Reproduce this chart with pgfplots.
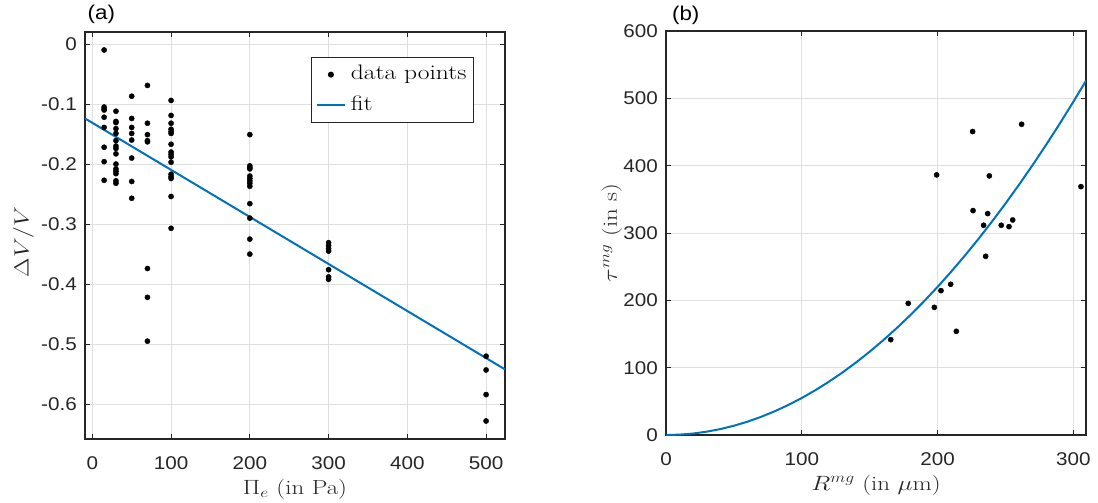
\documentclass[border=0pt]{standalone}
\usepackage{pgfplots}
\pgfplotsset{compat=1.18}
\usepackage{graphicx}
\usepackage{fontspec}
\newfontfamily\arial{Liberation Sans}[FakeStretch=1.12]
\definecolor{mblue}{rgb}{0,0.447,0.741}
\definecolor{axgray}{HTML}{262626}
\definecolor{gridgray}{HTML}{DFDFDF}
\newcommand\lab[1]{\scalebox{1.22}[1]{#1}}
\newcommand\leg[1]{\scalebox{1.22}[1]{#1}}
\pgfplotsset{
  myaxis/.style={
    scale only axis,
    anchor=south west,
    axis line style={axgray, line width=1.1bp},
    tick style={axgray, line width=1bp},
    major tick length=5bp, tick align=inside,
    grid=major, grid style={gridgray, line width=1bp},
    tick label style={font=\arial\fontsize{18.5}{20}\selectfont, text=axgray, inner sep=0pt},
    xticklabel style={anchor=base, yshift=-30bp},
    yticklabel style={anchor=east, xshift=-8bp},
    label style={font=\fontsize{20.5}{23}\selectfont, text=axgray, inner sep=0pt},
    xlabel style={at={(axis description cs:0.5,0)}, anchor=base, yshift=-55bp},
  }
}
\pgfplotstableread{
x y
15 -0.01
15 -0.105
15 -0.108
15 -0.11
15 -0.122
15 -0.139
15 -0.172
15 -0.196
15 -0.227
30 -0.112
30 -0.129
30 -0.131
30 -0.141
30 -0.149
30 -0.161
30 -0.17
30 -0.174
30 -0.183
30 -0.2
30 -0.208
30 -0.212
30 -0.216
30 -0.228
30 -0.232
50 -0.087
50 -0.124
50 -0.139
50 -0.149
50 -0.16
50 -0.19
50 -0.229
50 -0.257
70 -0.069
70 -0.132
70 -0.151
70 -0.161
70 -0.163
70 -0.374
70 -0.422
70 -0.495
100 -0.094
100 -0.119
100 -0.132
100 -0.142
100 -0.146
100 -0.149
100 -0.167
100 -0.18
100 -0.184
100 -0.188
100 -0.197
100 -0.217
100 -0.221
100 -0.224
100 -0.254
100 -0.307
200 -0.151
200 -0.203
200 -0.206
200 -0.208
200 -0.22
200 -0.224
200 -0.228
200 -0.232
200 -0.237
200 -0.266
200 -0.29
200 -0.325
200 -0.35
300 -0.331
300 -0.336
300 -0.341
300 -0.345
300 -0.376
300 -0.388
300 -0.392
500 -0.52
500 -0.543
500 -0.584
500 -0.628
}\dataA
\pgfplotstableread{
x y
165.5 141.6
178.4 195.5
197.6 189.6
202.5 214.4
209.6 223.8
213.8 154
199.3 386.3
225.8 450.7
238.1 384.8
226.1 333.3
236.9 328.8
233.9 311.5
235.4 265.4
246.9 311.5
252.6 309.5
255.3 319.4
261.9 461.5
305.6 368.9
}\dataB
\pgfplotstableread{
x y
0 0
10 0.55
20 2.2
30 4.95
40 8.8
50 13.75
60 19.8
70 26.95
80 35.2
90 44.55
100 55
110 66.55
120 79.2
130 92.95
140 107.8
150 123.75
160 140.8
170 158.95
180 178.2
190 198.55
200 220
210 242.55
220 266.2
230 290.95
240 316.8
250 343.75
260 371.8
270 400.95
280 431.2
290 462.55
300 495
309.3 526.2
}\fitB
\begin{document}
\begin{tikzpicture}
\useasboundingbox (0,0) rectangle (1098bp,-503bp);
\begin{axis}[myaxis, at={(85bp,-439bp)}, width=420bp, height=407bp,
  xmin=-9.3, xmax=524, ymin=-0.658, ymax=0.02,
  xtick={0,100,200,300,400,500}, xticklabels={0,100,200,300,400,500},
  ytick={-0.6,-0.5,-0.4,-0.3,-0.2,-0.1,0},
  yticklabels={-0.6,-0.5,-0.4,-0.3,-0.2,-0.1,0},
  xlabel={\lab{$\Pi_e$ (in Pa)}},
  ylabel={\lab{$\Delta V/V$}},
  ylabel style={at={(axis description cs:-0.1345,0.484)}, anchor=base},
  legend style={at={(0.926,0.9386)}, anchor=north east, draw=axgray, line width=0.8bp,
    fill=white, font=\fontsize{21}{23}\selectfont, inner xsep=5bp, inner ysep=2bp,
    column sep=3bp, row sep=0bp,
    nodes={text height=15bp, text depth=4.5bp, inner ysep=5.5bp, inner xsep=2bp}},
  legend cell align=left,
]
\addplot[only marks, mark=*, mark size=2.6bp, black,
  legend image code/.code={\path[draw=none,fill=none] (0bp,0bp) -- (28bp,0bp); \fill[black] (14bp,0bp) circle (2.6bp);}]
  table[x=x,y=y] {\dataA};
\addlegendentry{\leg{data points}}
\addplot[mblue, line width=2bp, no marks,
  legend image code/.code={\draw[mblue, line width=2bp] (0bp,0bp) -- (28bp,0bp);}]
  coordinates {(-9.3,-0.124) (524,-0.542)};
\addlegendentry{\leg{fit}}
\end{axis}
\begin{axis}[myaxis, at={(666bp,-435bp)}, width=420bp, height=404bp,
  xmin=0, xmax=309.3, ymin=0, ymax=600,
  xtick={0,100,200,300}, xticklabels={0,100,200,300},
  ytick={0,100,200,300,400,500,600},
  yticklabels={0,100,200,300,400,500,600},
  xlabel={\lab{$R^{mg}$ (in $\mu$m)}},
  ylabel={\lab{$\tau^{mg}$ (in s)}},
  ylabel style={at={(axis description cs:-0.1167,0.5)}, anchor=base},
]
\addplot[only marks, mark=*, mark size=2.6bp, black] table[x=x,y=y] {\dataB};
\addplot[mblue, line width=2bp, no marks] table[x=x,y=y] {\fitB};
\end{axis}
\node[font=\arial\fontsize{20}{22}\selectfont, inner sep=0pt] at (101.3bp,-14.5bp) {(a)};
\node[font=\arial\fontsize{20}{22}\selectfont, inner sep=0pt] at (685.7bp,-15bp) {(b)};
\end{tikzpicture}
\end{document}
